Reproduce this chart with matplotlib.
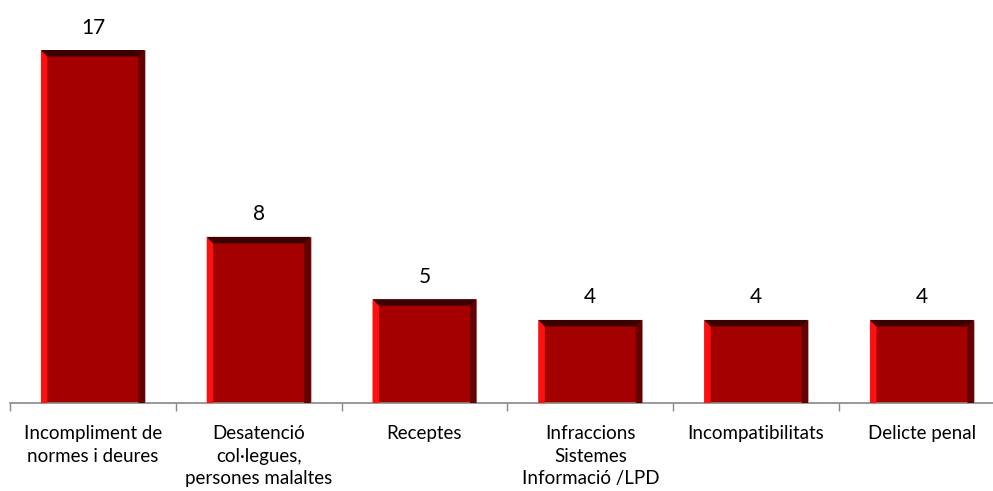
import numpy as np
import matplotlib
matplotlib.use("Agg")
from matplotlib import pyplot as plt
from matplotlib.patches import Polygon

categories = ["Incompliment de\nnormes i deures",
              "Desatenció\ncol·legues,\npersones malaltes",
              "Receptes",
              "Infraccions\nSistemes\nInformació /LPD",
              "Incompatibilitats",
              "Delicte penal"]
values = [17, 8, 5, 4, 4, 4]

plt.rcParams['font.family'] = ['Lato', 'DejaVu Sans']

fig = plt.figure(figsize=(9.93, 4.91), dpi=100, facecolor='w')
cat_px = 165.8
ax = fig.add_axes([10/993, 88/491, 6 * cat_px / 993, 393/491])

x = np.arange(len(values))
width = 0.627
ytop = 17 * 393 / 353
bars = ax.bar(x, values, width=width, color='#a50000', edgecolor='#c0c0c0',
              linewidth=0.6, zorder=2)

ax.set_xlim(-0.5, len(values) - 0.5)
ax.set_ylim(0, ytop)

# bevel edges, sized in pixels
ppx = 1.0 / cat_px
ppy = ytop / 393.0
bw = 6.5 * ppx
bh = 6.5 * ppy
for b in bars:
    x0 = b.get_x()
    x1 = x0 + b.get_width()
    h = b.get_height()
    # left highlight
    ax.add_patch(Polygon([(x0, 0), (x0, h), (x0 + bw, h - bh), (x0 + bw, 0)],
                         closed=True, color='#ff1010', lw=0, zorder=3))
    # right shade
    ax.add_patch(Polygon([(x1, 0), (x1, h), (x1 - bw, h - bh), (x1 - bw, 0)],
                         closed=True, color='#640000', lw=0, zorder=3))
    # top shade
    ax.add_patch(Polygon([(x0, h), (x1, h), (x1 - bw, h - bh), (x0 + bw, h - bh)],
                         closed=True, color='#3c0000', lw=0, zorder=4))
    ax.text(b.get_x() + b.get_width() / 2, h + 0.6, str(int(h)),
            ha='center', va='bottom', fontsize=15)

for side in ['top', 'right', 'left']:
    ax.spines[side].set_visible(False)
ax.spines['bottom'].set_color('#888888')
ax.spines['bottom'].set_linewidth(1.2)

ax.set_yticks([])
ax.set_xticks(x)
ax.set_xticklabels(categories, fontsize=13.5, linespacing=1.38)
ax.tick_params(axis='x', which='major', length=0, pad=16)
ax.set_xticks(np.arange(-0.5, len(values) + 0.5, 1), minor=True)
ax.tick_params(axis='x', which='minor', length=6, color='#888888', width=1)

fig.savefig('out.png', dpi=100)
